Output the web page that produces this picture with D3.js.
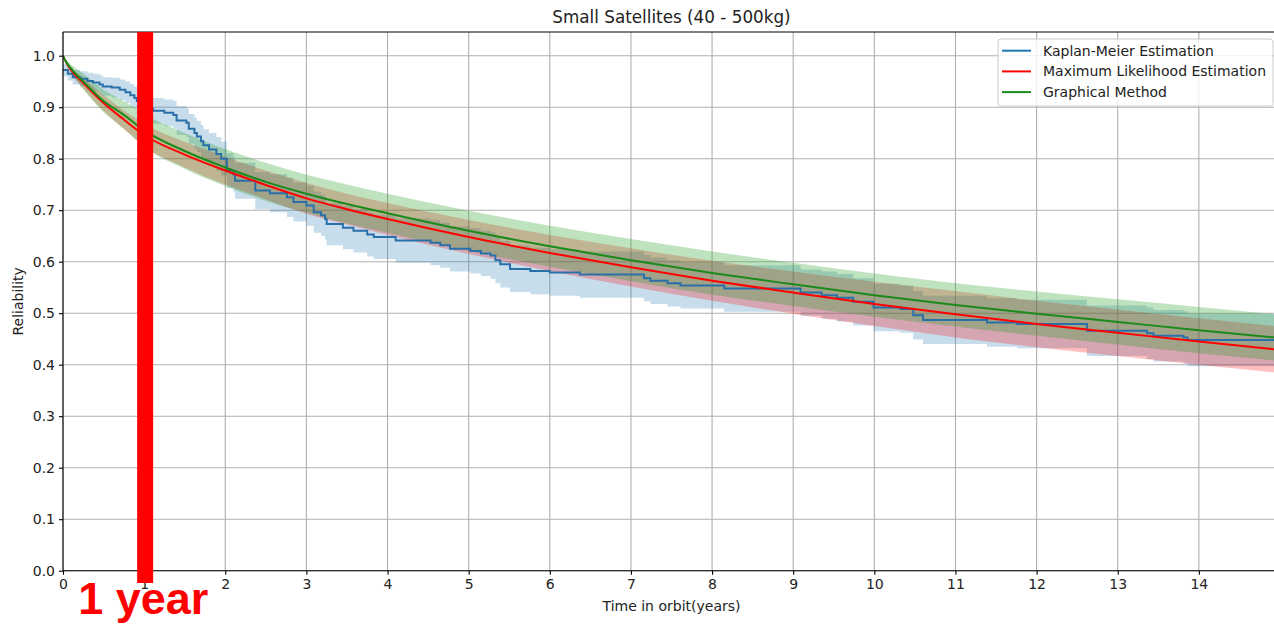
<!DOCTYPE html>
<html><head><meta charset="utf-8">
<script src="https://cdn.jsdelivr.net/npm/d3@7"></script>
<style>
html,body{margin:0;padding:0;background:#fff;}
svg{display:block;font-family:"DejaVu Sans",sans-serif;}
</style></head>
<body>
<svg id="chart" width="1274" height="626"></svg>
<script>
// ---- data ----
const titleText = "Small Satellites (40 - 500kg)";
const xLabel = "Time in orbit(years)";
const yLabel = "Reliability";
const xTicks = [0,1,2,3,4,5,6,7,8,9,10,11,12,13,14];
const yTicks = [0.0,0.1,0.2,0.3,0.4,0.5,0.6,0.7,0.8,0.9,1.0];
const seriesNames = ["Kaplan-Meier Estimation","Maximum Likelihood Estimation","Graphical Method"];

// Kaplan-Meier step estimate with confidence band
const kmTimes = [0,0.06,0.12,0.21,0.30,0.37,0.45,0.49,0.60,0.70,0.77,0.83,0.88,0.91,0.95,1.05,1.11,1.25,1.36,1.40,1.52,1.55,1.62,1.65,1.70,1.73,1.80,1.89,1.95,2.02,2.10,2.12,2.37,2.55,2.76,2.84,3.00,3.09,3.18,3.23,3.25,3.45,3.58,3.75,3.83,4.10,4.53,4.65,4.77,5.02,5.15,5.27,5.33,5.39,5.51,5.76,6.00,6.37,7.16,7.24,7.45,7.61,8.15,9.09,9.35,9.54,9.74,9.99,10.32,10.48,10.60,11.39,11.76,12.62,13.36,13.44,13.81,13.86,15.0];
const kmSurv = [0.972,0.965,0.958,0.955,0.951,0.948,0.944,0.940,0.938,0.934,0.929,0.923,0.918,0.912,0.905,0.897,0.893,0.889,0.885,0.874,0.870,0.858,0.850,0.843,0.834,0.826,0.818,0.809,0.800,0.777,0.770,0.757,0.738,0.733,0.725,0.716,0.709,0.696,0.690,0.683,0.673,0.666,0.660,0.653,0.648,0.641,0.637,0.632,0.625,0.621,0.616,0.612,0.603,0.595,0.586,0.582,0.579,0.575,0.568,0.563,0.558,0.554,0.548,0.540,0.535,0.530,0.522,0.511,0.508,0.496,0.487,0.482,0.479,0.466,0.461,0.456,0.453,0.448,0.448];
const kmLower = [0.960,0.952,0.944,0.940,0.935,0.931,0.926,0.922,0.919,0.914,0.908,0.901,0.896,0.889,0.882,0.873,0.868,0.863,0.858,0.846,0.842,0.829,0.820,0.813,0.803,0.795,0.786,0.776,0.767,0.743,0.736,0.722,0.702,0.696,0.687,0.678,0.670,0.656,0.650,0.642,0.632,0.624,0.618,0.610,0.605,0.598,0.593,0.588,0.581,0.577,0.572,0.567,0.558,0.550,0.541,0.537,0.534,0.530,0.523,0.518,0.513,0.509,0.503,0.495,0.489,0.484,0.476,0.465,0.462,0.449,0.440,0.435,0.432,0.417,0.411,0.406,0.402,0.397,0.397];
const kmUpper = [0.984,0.978,0.972,0.970,0.967,0.965,0.962,0.958,0.957,0.954,0.950,0.945,0.940,0.935,0.928,0.921,0.918,0.915,0.912,0.902,0.898,0.887,0.880,0.873,0.865,0.857,0.850,0.842,0.833,0.811,0.804,0.792,0.774,0.770,0.763,0.754,0.748,0.736,0.730,0.724,0.714,0.708,0.702,0.696,0.691,0.684,0.681,0.676,0.669,0.665,0.660,0.657,0.648,0.640,0.631,0.627,0.624,0.620,0.613,0.608,0.603,0.599,0.593,0.585,0.581,0.576,0.568,0.557,0.554,0.543,0.534,0.529,0.526,0.515,0.511,0.506,0.504,0.499,0.499];

// Parametric fits
const fitTimes = [0,0.03,0.1,0.25,0.5,0.75,1,1.5,2,2.5,3,3.5,4,5,6,7,8,9,10,11,12,13,14,15];
const mleVals  = [1.0,0.99,0.972,0.947,0.908,0.876,0.846,0.808,0.777,0.749,0.723,0.702,0.683,0.648,0.617,0.589,0.563,0.540,0.518,0.498,0.479,0.462,0.445,0.429];
const mleLower = [1.0,0.987,0.966,0.937,0.893,0.858,0.824,0.783,0.750,0.721,0.693,0.672,0.652,0.615,0.582,0.552,0.524,0.499,0.475,0.453,0.434,0.417,0.400,0.384];
const mleUpper = [1.0,0.993,0.978,0.957,0.923,0.894,0.868,0.833,0.804,0.777,0.753,0.732,0.714,0.681,0.652,0.626,0.602,0.581,0.561,0.543,0.524,0.507,0.490,0.474];
const grVals   = [1.0,0.99,0.975,0.95,0.912,0.885,0.855,0.815,0.783,0.755,0.732,0.712,0.694,0.66,0.63,0.603,0.578,0.556,0.535,0.516,0.499,0.483,0.467,0.452];
const grLower  = [1.0,0.986,0.967,0.935,0.890,0.858,0.823,0.780,0.747,0.718,0.695,0.674,0.656,0.621,0.590,0.562,0.536,0.514,0.493,0.474,0.456,0.439,0.422,0.407];
const grUpper  = [1.0,0.994,0.983,0.965,0.934,0.912,0.887,0.850,0.819,0.792,0.769,0.750,0.732,0.699,0.670,0.644,0.620,0.598,0.577,0.558,0.542,0.527,0.512,0.497];

const markerYear = [1];
const markerText = "1 year";

// ---- layout ----
const plotL = 63, plotR = 1280, plotT = 32, plotB = 570.7;
const x = d3.scaleLinear().domain([0,15]).range([plotL,plotR]);
const y = d3.scaleLinear().domain([0,1.046]).range([plotB,plotT]);

const svg = d3.select("#chart");
svg.append("defs").append("clipPath").attr("id","clip")
  .append("rect").attr("x",plotL).attr("y",plotT).attr("width",plotR-plotL).attr("height",plotB-plotT);

// grid
const grid = svg.append("g");
grid.selectAll(".gx").data(xTicks).enter().append("line")
  .attr("x1",d=>x(d)).attr("x2",d=>x(d)).attr("y1",plotT).attr("y2",plotB)
  .attr("stroke","#b0b0b0").attr("stroke-width",1.1);
grid.selectAll(".gy").data(yTicks).enter().append("line")
  .attr("x1",plotL).attr("x2",plotR).attr("y1",d=>y(d)).attr("y2",d=>y(d))
  .attr("stroke","#b0b0b0").attr("stroke-width",1.1);

const plot = svg.append("g").attr("clip-path","url(#clip)");

const kmData = kmTimes.map((t,i)=>({t, v:kmSurv[i], lo:kmLower[i], hi:kmUpper[i]}));
const mleData = fitTimes.map((t,i)=>({t, v:mleVals[i], lo:mleLower[i], hi:mleUpper[i]}));
const grData = fitTimes.map((t,i)=>({t, v:grVals[i], lo:grLower[i], hi:grUpper[i]}));

const stepArea = d3.area().curve(d3.curveStepAfter).x(d=>x(d.t)).y0(d=>y(d.lo)).y1(d=>y(d.hi));
const stepLine = d3.line().curve(d3.curveStepAfter).x(d=>x(d.t)).y(d=>y(d.v));
const smArea = d3.area().curve(d3.curveMonotoneX).x(d=>x(d.t)).y0(d=>y(d.lo)).y1(d=>y(d.hi));
const smLine = d3.line().curve(d3.curveMonotoneX).x(d=>x(d.t)).y(d=>y(d.v));

plot.append("path").datum(kmData).attr("d",stepArea).attr("fill","#1f77b4").attr("fill-opacity",0.25);
plot.append("path").datum(mleData).attr("d",smArea).attr("fill","#ff0000").attr("fill-opacity",0.25);
plot.append("path").datum(grData).attr("d",smArea).attr("fill","#2ca02c").attr("fill-opacity",0.3);
plot.append("path").datum(kmData).attr("d",stepLine).attr("fill","none").attr("stroke","#2a70a8").attr("stroke-width",2);
plot.append("path").datum(mleData).attr("d",smLine).attr("fill","none").attr("stroke","#ff0000").attr("stroke-width",2);
plot.append("path").datum(grData).attr("d",smLine).attr("fill","none").attr("stroke","#1a8a1a").attr("stroke-width",2);

// spines
svg.append("line").attr("x1",plotL).attr("x2",plotL).attr("y1",plotT).attr("y2",plotB).attr("stroke","#000").attr("stroke-width",1.1);
svg.append("line").attr("x1",plotL).attr("x2",plotR).attr("y1",plotB).attr("y2",plotB).attr("stroke","#000").attr("stroke-width",1.1);
svg.append("line").attr("x1",plotL).attr("x2",plotR).attr("y1",plotT).attr("y2",plotT).attr("stroke","#000").attr("stroke-width",1.1);

// axes
const xAxis = d3.axisBottom(x).tickValues(xTicks).tickSize(4).tickPadding(4).tickFormat(d3.format("d"));
const yAxis = d3.axisLeft(y).tickValues(yTicks).tickSize(4).tickPadding(4).tickFormat(d3.format(".1f"));
const gx = svg.append("g").attr("transform",`translate(0,${plotB})`).call(xAxis);
const gy = svg.append("g").attr("transform",`translate(${plotL},0)`).call(yAxis);
[gx,gy].forEach(g=>{
  g.select(".domain").remove();
  g.selectAll(".tick line").attr("stroke","#000").attr("stroke-width",1.1);
  g.selectAll(".tick text").attr("fill","#222").style("font-size","14px").style("font-family","DejaVu Sans");
});

// labels
svg.append("text").attr("x",(plotL+plotR)/2).attr("y",23).attr("text-anchor","middle")
  .style("font-size","16.8px").attr("fill","#222").text(titleText);
svg.append("text").attr("x",(plotL+plotR)/2).attr("y",611).attr("text-anchor","middle")
  .style("font-size","14px").attr("fill","#222").text(xLabel);
svg.append("text").attr("transform",`translate(23,${(plotT+plotB)/2}) rotate(-90)`).attr("text-anchor","middle")
  .style("font-size","14px").attr("fill","#222").text(yLabel);

// legend
const lg = svg.append("g");
lg.append("rect").attr("x",998).attr("y",39).attr("width",275).attr("height",67).attr("rx",3)
  .attr("fill","#fff").attr("fill-opacity",0.8).attr("stroke","#cccccc").attr("stroke-width",1);
const legColors = ["#1f77b4","#ff0000","#1a8a1a"];
seriesNames.forEach((n,i)=>{
  const yy = 50.7 + i*20.7;
  lg.append("line").attr("x1",1002).attr("x2",1031).attr("y1",yy).attr("y2",yy).attr("stroke",legColors[i]).attr("stroke-width",2);
  lg.append("text").attr("x",1043).attr("y",yy+5).style("font-size","14px").attr("fill","#222").text(n);
});

// annotation: red bar at 1 year
svg.selectAll(".marker").data(markerYear).enter().append("rect")
  .attr("x",d=>x(d)-7).attr("y",plotT).attr("width",16).attr("height",583-plotT).attr("fill","#ff0000");
svg.selectAll(".markerText").data(markerYear).enter().append("text")
  .attr("x",d=>x(d)-66).attr("y",614)
  .style("font-family","'Liberation Sans',Arial,sans-serif").style("font-weight","bold").style("font-size","45px")
  .attr("fill","#ff0000").text(markerText);
</script>
</body></html>
